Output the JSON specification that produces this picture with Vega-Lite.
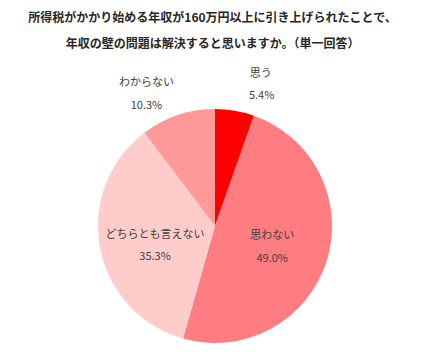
{
  "$schema": "https://vega.github.io/schema/vega-lite/v6.json",
  "width": 420,
  "height": 274,
  "autosize": "none",
  "padding": {"left": 5, "top": 89, "right": 0, "bottom": 0},
  "background": "white",
  "title": {
    "text": ["所得税がかかり始める年収が160万円以上に引き上げられたことで、", "年収の壁の問題は解決すると思いますか。（単一回答）"],
    "font": "Noto Sans CJK JP",
    "fontSize": 12,
    "fontWeight": "bold",
    "color": "#262626",
    "lineHeight": 26,
    "anchor": "middle",
    "offset": 17,
    "dx": -2.5
  },
  "config": {"view": {"stroke": null}},
  "data": {
    "values": [
      {"category": "思う", "value": 5.4, "pct": "5.4%", "order": 1},
      {"category": "思わない", "value": 49.0, "pct": "49.0%", "order": 2},
      {"category": "どちらとも言えない", "value": 35.3, "pct": "35.3%", "order": 3},
      {"category": "わからない", "value": 10.3, "pct": "10.3%", "order": 4}
    ]
  },
  "encoding": {
    "theta": {"field": "value", "type": "quantitative", "stack": true},
    "order": {"field": "order", "type": "quantitative", "sort": "ascending"}
  },
  "layer": [
    {
      "mark": {"type": "arc", "outerRadius": 117},
      "encoding": {
        "color": {
          "field": "category",
          "type": "nominal",
          "scale": {
            "domain": ["思う", "思わない", "どちらとも言えない", "わからない"],
            "range": ["#FF0000", "#FF7C80", "#FFCCCC", "#FF9999"]
          },
          "legend": null
        }
      }
    },
    {
      "mark": {"type": "text", "radius": 140, "dx": 22, "dy": -14, "font": "Noto Sans CJK JP", "fontSize": 11, "color": "#404040", "align": "center", "baseline": "middle"},
      "encoding": {"text": {"condition": {"test": "datum.category === '思う'", "field": "category"}, "value": ""}}
    },
    {
      "mark": {"type": "text", "radius": 140, "dx": 23, "dy": 8, "font": "Noto Sans CJK JP", "fontSize": 11, "color": "#404040", "align": "center", "baseline": "middle"},
      "encoding": {"text": {"condition": {"test": "datum.category === '思う'", "field": "pct"}, "value": ""}}
    },
    {
      "mark": {"type": "text", "radius": 140, "dx": -24, "dy": -10, "font": "Noto Sans CJK JP", "fontSize": 11, "color": "#404040", "align": "center", "baseline": "middle"},
      "encoding": {"text": {"condition": {"test": "datum.category === 'わからない'", "field": "category"}, "value": ""}}
    },
    {
      "mark": {"type": "text", "radius": 140, "dx": -24, "dy": 13, "font": "Noto Sans CJK JP", "fontSize": 11, "color": "#404040", "align": "center", "baseline": "middle"},
      "encoding": {"text": {"condition": {"test": "datum.category === 'わからない'", "field": "pct"}, "value": ""}}
    },
    {
      "mark": {"type": "text", "radius": 60, "dx": 0, "dy": -8, "font": "Noto Sans CJK JP", "fontSize": 11, "color": "#404040", "align": "center", "baseline": "middle"},
      "encoding": {"text": {"condition": {"test": "datum.category === '思わない'", "field": "category"}, "value": ""}}
    },
    {
      "mark": {"type": "text", "radius": 60, "dx": 0, "dy": 15, "font": "Noto Sans CJK JP", "fontSize": 11, "color": "#404040", "align": "center", "baseline": "middle"},
      "encoding": {"text": {"condition": {"test": "datum.category === '思わない'", "field": "pct"}, "value": ""}}
    },
    {
      "mark": {"type": "text", "radius": 61, "dx": 0, "dy": -2, "font": "Noto Sans CJK JP", "fontSize": 11, "color": "#404040", "align": "center", "baseline": "middle"},
      "encoding": {"text": {"condition": {"test": "datum.category === 'どちらとも言えない'", "field": "category"}, "value": ""}}
    },
    {
      "mark": {"type": "text", "radius": 61, "dx": 0, "dy": 20, "font": "Noto Sans CJK JP", "fontSize": 11, "color": "#404040", "align": "center", "baseline": "middle"},
      "encoding": {"text": {"condition": {"test": "datum.category === 'どちらとも言えない'", "field": "pct"}, "value": ""}}
    }
  ]
}
